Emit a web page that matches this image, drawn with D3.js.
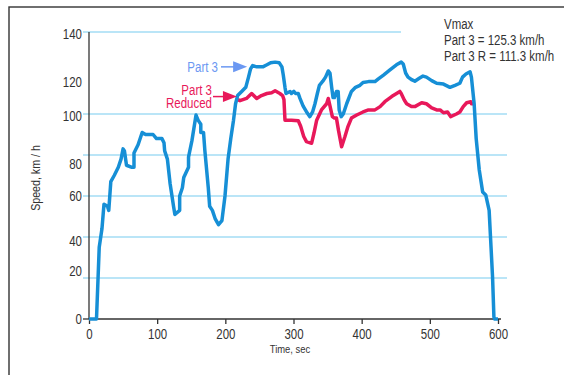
<!DOCTYPE html>
<html>
<head>
<meta charset="utf-8">
<script src="https://cdn.jsdelivr.net/npm/d3@7"></script>
<style>
  body { margin: 0; background: #fff; }
  svg text { font-family: "Liberation Sans", Arial, sans-serif; fill: #333; }
</style>
</head>
<body>
<div id="chart"></div>
<script>
// time (sec) and speed (km/h)
const part3Time = [0, 11, 15, 19, 22, 27, 29, 32, 37, 43, 47, 50, 52, 55, 63, 66, 66, 72, 78, 83, 89, 94, 99, 107,
  110, 111, 115, 119, 124, 126, 133, 133, 137, 139, 146, 146, 151, 157, 160, 164, 164, 168, 170, 175, 177, 181,
  185, 190, 195, 199.5, 204, 208, 212, 215, 218, 224, 230, 234, 237, 240, 246, 255, 261, 266.5, 273, 279, 283,
  285, 287.5, 289, 295, 297, 300.5, 303, 307, 309.5, 314, 320, 324, 328, 331.5, 335, 338, 343, 347, 351, 353.5,
  356, 358, 360, 363, 365.5, 367, 370, 373, 378, 385, 391, 397.5, 402, 410, 419.5, 424, 432, 441.5, 451, 458,
  461, 464.5, 468, 474, 478, 484.5, 490, 495, 502.7, 510, 520, 529.5, 537, 544, 548, 553, 559, 561, 565, 568,
  572.5, 577.5, 582, 587, 589, 592, 594, 595, 600];
const part3Speed = [0, 0, 35, 44, 56, 55, 53, 67, 70, 74, 78, 83, 82, 75, 74, 74, 81, 85, 91, 90, 90, 90, 88, 88,
  86, 82, 78, 66, 55, 51, 53, 60, 64, 69, 74, 79, 87, 99.5, 97, 95, 91, 91, 82, 64, 55, 53,
  49, 46, 48, 60, 78, 88, 97, 105, 109, 111, 113, 118, 122, 123.6, 123, 123, 124, 125, 125.3, 125, 123,
  119, 113, 110, 111, 110, 111, 110, 110, 107.6, 104, 100.6, 98.7, 101, 105, 110, 114, 116, 118, 121, 120,
  113, 108, 108, 111, 111, 102, 98.7, 100, 105, 111, 113, 114, 115.4, 115.8, 115.8, 117, 119, 121.5, 124, 125.3,
  124.4, 120, 118, 116.6, 116, 117.4, 118.5, 118, 116.3, 115, 114.6, 113, 114, 115, 118, 119.5, 120.6, 118, 105, 88,
  72.7, 62, 60.5, 53, 40, 20.6, 1, 0, 0];

const reducedTime = [218, 221.5, 231, 238.6, 246, 253, 261, 268, 273, 280, 284, 286, 287.5, 297, 307, 310.5, 315,
  319, 326.5, 330, 334, 341, 348.6, 351, 353.5, 357, 360, 363, 366, 370.6, 375.5, 380, 385, 392.7, 402, 410,
  419.5, 427, 434, 444, 456, 458, 462.5, 466, 473, 478, 488, 495, 502.7, 510, 515, 520, 526, 530.5, 539, 544,
  549, 554, 560, 561, 564];
const reducedSpeed = [107, 106.5, 107.6, 110, 107.6, 109, 110, 110.4, 111.3, 110, 109, 107, 97, 97, 96.7, 94, 89,
  86.5, 85.7, 90.6, 97, 102, 105, 107.6, 104, 98.7, 98, 98, 92, 84, 89, 94, 98, 99.5, 101, 102,
  102, 103.6, 106, 108.5, 111, 110, 106.8, 105, 103.6, 103.6, 105.5, 105, 103, 102, 102, 100.6, 101, 98.7, 100, 101,
  103.6, 105.5, 106, 105, 105];

const xTicks = [0, 100, 200, 300, 400, 500, 600];
const yGrid = [20, 40, 60, 80, 100, 140];
const yTickLabels = ['0', '20', '40', '60', '80', '100', '120', '140'];
const yTickLabelAt = [0, 23.5, 38, 60, 75.5, 99, 115.5, 139];
const vmaxLines = ['Vmax', 'Part 3 = 125.3 km/h', 'Part 3 R = 111.3 km/h'];

const W = 564, H = 375;
const blue = '#168fd6', red = '#e8185a', lightBlue = '#6b98f2', grid = '#a3ddf5';
const NARROW = 0.82; // no narrow font installed, squeeze Liberation Sans instead

const svg = d3.select('#chart').append('svg').attr('width', W).attr('height', H);

const x = d3.scaleLinear().domain([0, 600]).range([89, 498]);
const y = d3.scaleLinear().domain([0, 140]).range([319, 32]);

// narrow text helper
function label(parent, tx, ty, str, size, anchor = 'start', color = '#333', rot = 0) {
  return parent.append('text')
    .attr('transform', `translate(${tx},${ty}) rotate(${rot}) scale(${NARROW},1)`)
    .attr('text-anchor', anchor).style('font-size', size + 'px').style('fill', color).text(str);
}

// outer frame
svg.append('rect').attr('x', 9).attr('y', 7).attr('width', 620).attr('height', 420)
  .attr('fill', 'none').attr('stroke', '#333').attr('stroke-width', 1.4);

// grid lines (the top one is shorter)
svg.append('g').selectAll('line').data(yGrid).join('line')
  .attr('x1', 83).attr('x2', d => d === 140 ? 401 : 507)
  .attr('y1', d => y(d)).attr('y2', d => y(d))
  .attr('stroke', grid).attr('stroke-width', 1.5);

// y axis
svg.append('line').attr('x1', x(0)).attr('x2', x(0)).attr('y1', y(140)).attr('y2', y(0))
  .attr('stroke', '#333').attr('stroke-width', 1.3);
svg.append('line').attr('x1', 83).attr('x2', x(0)).attr('y1', y(0)).attr('y2', y(0))
  .attr('stroke', '#333').attr('stroke-width', 1.3);
const yLabels = svg.append('g');
yTickLabels.forEach((d, i) => label(yLabels, 82, y(yTickLabelAt[i]) + 5, d, 14, 'end'));

// x axis
const xAxis = svg.append('g').attr('transform', `translate(0,${y(0)})`)
  .call(d3.axisBottom(x).tickValues(xTicks).tickSize(5).tickPadding(5).tickSizeOuter(0));
xAxis.select('.domain').attr('stroke', '#333').attr('stroke-width', 1.3).attr('d', 'M89,0H501');
xAxis.selectAll('.tick line').attr('stroke', '#333').attr('stroke-width', 1.3);
xAxis.selectAll('.tick text').style('font-size', '14px').attr('fill', '#333')
  .style('font-family', '"Liberation Sans", Arial, sans-serif')
  .attr('transform', `scale(${NARROW},1)`);

label(svg, 290, 353, 'Time, sec', 11.5, 'middle');
label(svg, 40, 178, 'Speed, km / h', 13, 'middle', '#333', -90);

// lines
const line = d3.line().x(d => x(d[0])).y(d => y(d[1]));
const reduced = reducedTime.map((t, i) => [t, reducedSpeed[i]]);
const part3 = part3Time.map((t, i) => [t, part3Speed[i]]);
svg.append('path').datum(reduced).attr('d', line).attr('fill', 'none')
  .attr('stroke', red).attr('stroke-width', 3.5).attr('stroke-linejoin', 'round');
svg.append('path').datum(part3).attr('d', line).attr('fill', 'none')
  .attr('stroke', blue).attr('stroke-width', 3.5).attr('stroke-linejoin', 'round');

// labels with arrows
function arrow(tipX, tipY, fromX, color) {
  svg.append('line').attr('x1', fromX).attr('x2', tipX - 10).attr('y1', tipY).attr('y2', tipY)
    .attr('stroke', color).attr('stroke-width', 1.5);
  svg.append('path')
    .attr('d', `M${tipX},${tipY}L${tipX - 14},${tipY - 5.5}L${tipX - 14},${tipY + 5.5}Z`)
    .attr('fill', color);
}
arrow(x(232), y(123), 221, lightBlue);
label(svg, 218, 72, 'Part 3', 14, 'end', lightBlue);

arrow(x(217), y(108.5), 213, red);
label(svg, 212, 95, 'Part 3', 14, 'end', red);
label(svg, 212, 108, 'Reduced', 14, 'end', red);

// Vmax note
vmaxLines.forEach((d, i) => label(svg, 444, 29 + i * 16, d, 14));
</script>
</body>
</html>
